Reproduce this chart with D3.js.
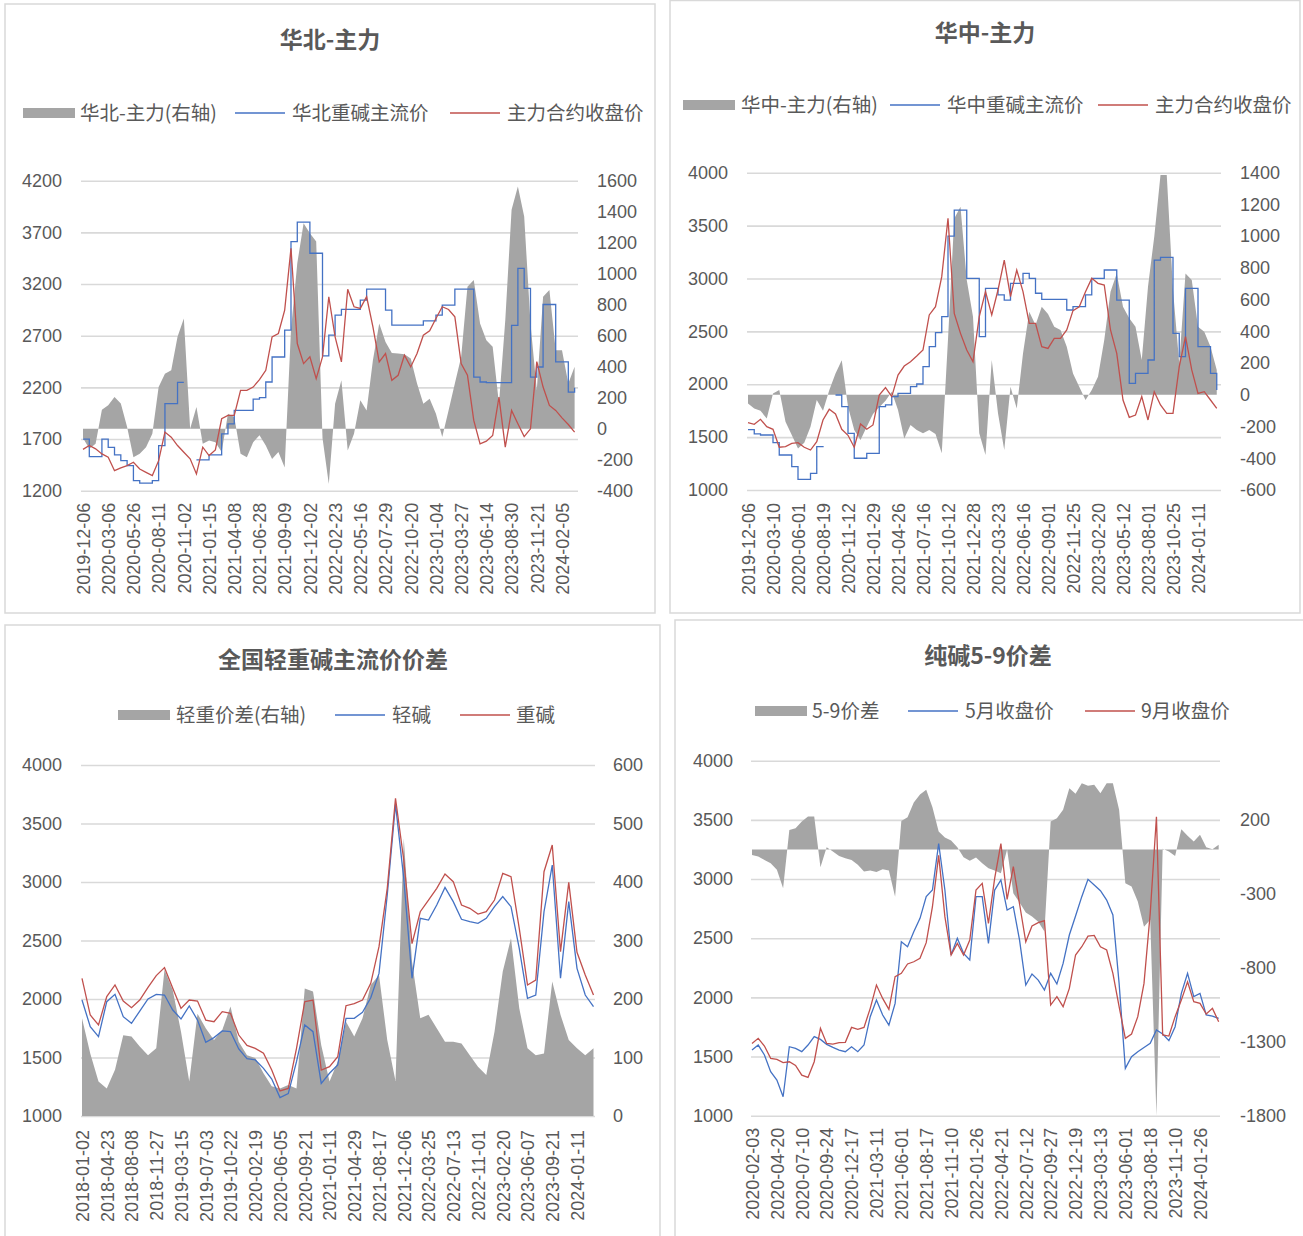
<!DOCTYPE html>
<html><head><meta charset="utf-8">
<script src="https://cdn.jsdelivr.net/npm/d3@7"></script>
<style>body{margin:0;background:#fff}svg{display:block}</style>
</head><body><svg id="c" width="1303" height="1236"></svg>
<script>
// ---------- Panel 1: 华北-主力 ----------
const p1Labels = ["2019-12-06","2020-03-06","2020-05-26","2020-08-11","2020-11-02","2021-01-15","2021-04-08","2021-06-28","2021-09-09","2021-12-02","2022-02-23","2022-05-16","2022-07-29","2022-10-20","2023-01-04","2023-03-27","2023-06-14","2023-08-30","2023-11-21","2024-02-05"];
const p1Gray = [-60,-130,-97,123,151,205,162,11,-184,-162,-119,-33,269,355,377,593,711,0,140,-97,-76,-87,-150,97,75,-162,-184,-87,-43,-108,-195,-151,-250,636,1067,1326,1261,1207,-60,-356,161,312,-140,-33,183,118,442,679,560,489,485,480,453,291,161,194,97,-54,118,291,463,916,960,679,571,528,161,700,1412,1563,1369,679,248,852,895,506,506,291,399];
const p1Blue = [1700,1530,1530,1700,1620,1547,1491,1443,1297,1274,1274,1297,1637,2042,2042,2248,2248,null,1498,1498,1547,1547,1750,1847,1977,1977,1977,2086,2100,2252,2494,2494,2753,3611,3799,3799,3498,3498,2504,2705,2899,2954,2954,2954,3045,3151,3151,3151,2948,2802,2802,2802,2802,2802,2844,2844,2899,2996,2996,3151,3151,3151,2300,2252,2245,2245,2245,2245,2800,3352,3158,2300,2397,3002,3002,2446,2446,2154,2197];
const p1Red = [1600,1637,1605,1556,1524,1394,1420,1443,1475,1410,1378,1346,1491,1767,1718,1637,1572,1508,1362,1621,1540,1595,1896,1928,1928,2171,2171,2203,2275,2365,2689,2721,2948,3546,2624,2430,2495,2284,2495,3077,2689,2446,3150,2980,2964,3077,2786,2446,2527,2268,2317,2511,2398,2527,2705,2747,2867,2980,2954,2883,2430,2317,1880,1653,1679,1734,2106,1621,1977,1847,1724,1799,2450,2203,2025,1977,1905,1841,1767];

// ---------- Panel 2: 华中-主力 ----------
const p2Labels = ["2019-12-06","2020-03-10","2020-06-01","2020-08-19","2020-11-12","2021-01-29","2021-04-26","2021-07-16","2021-10-12","2021-12-28","2022-03-23","2022-06-16","2022-09-01","2022-11-25","2023-02-20","2023-05-12","2023-08-01","2023-10-25","2024-01-11"];
const p2Gray = [-55,-86,-101,-149,9,30,-170,-253,-338,-302,-201,-32,-100,29,134,218,-76,-222,-285,-201,-121,-79,-37,20,-96,-275,-190,-222,-243,-222,-247,-369,350,1112,1186,723,492,-243,-380,219,-117,-348,51,-86,261,524,440,555,509,429,408,303,135,51,-33,30,114,345,650,765,555,482,429,219,681,997,1385,1385,660,198,765,723,429,398,303,156];
const p2Blue = [1570,1530,1520,1520,1448,1331,1331,1221,1101,1101,1158,1410,1404,null,1898,1788,1536,1300,1300,1347,1347,1788,1804,1883,1914,1914,1977,2002,2166,2355,2488,2639,3400,3647,3647,3001,3001,2450,2907,2907,2844,2796,2954,2954,3048,3001,2860,2803,2803,2803,2803,2702,2733,2733,2844,3001,3001,3080,3080,2796,2796,2009,2103,2103,2229,3174,3200,3200,2481,2261,2907,2907,2355,2355,2103,1946];
const p2Red = [1637,1621,1668,1599,1574,1404,1410,1441,1448,1404,1378,1457,1662,1763,1719,1574,1517,1404,1624,1574,1615,1898,1968,1883,2087,2172,2213,2267,2324,2655,2733,3017,3568,2670,2481,2324,2213,2639,2875,2655,2891,3174,2828,3080,2875,2576,2576,2355,2339,2434,2434,2513,2696,2733,2875,3001,2954,2938,2513,2292,1851,1687,1709,1883,1662,1930,1804,1725,1725,2166,2450,2135,1914,1930,1851,1772];

// ---------- Panel 3: 全国轻重碱主流价价差 ----------
const p3Labels = ["2018-01-02","2018-04-23","2018-08-08","2018-11-27","2019-03-15","2019-07-03","2019-10-22","2020-02-19","2020-06-05","2020-09-21","2021-01-11","2021-04-29","2021-08-17","2021-12-06","2022-03-25","2022-07-13","2022-11-01","2023-02-20","2023-06-07","2023-09-21","2024-01-11"];
const p3Gray = [167,107,59,47,79,138,136,119,104,116,250,215,144,59,175,150,130,147,187,127,104,99,73,51,47,53,47,218,213,121,59,93,161,136,167,224,241,130,60,475,264,167,173,150,127,127,124,104,84,70,144,247,304,184,116,104,107,230,173,130,116,104,116];
const p3Light = [1991,1764,1678,1977,2040,1849,1792,1897,2000,2040,2034,1906,1829,1940,1820,1630,1670,1727,1721,1573,1490,1479,1407,1316,1157,1191,1464,1778,1721,1279,1365,1436,1835,1835,1886,2011,2219,2889,3664,3031,2177,2689,2675,2803,2954,2832,2681,2661,2647,2689,2789,2875,2789,2433,2006,2034,2746,3145,2177,2832,2262,2034,1934];
const p3Heavy = [2177,1863,1778,2020,2120,1983,1926,1991,2100,2200,2268,2091,1920,1991,1983,1820,1806,1892,1877,1692,1604,1578,1536,1393,1214,1236,1578,1977,1991,1393,1422,1507,1943,1960,1991,2134,2447,2946,3715,3188,2473,2746,2846,2946,3068,3003,2803,2775,2726,2746,2846,3074,3046,2604,2120,2162,3088,3316,2405,2997,2399,2205,2034];

// ---------- Panel 4: 纯碱5-9价差 ----------
const p4Labels = ["2020-02-03","2020-04-20","2020-07-10","2020-09-24","2020-12-17","2021-03-11","2021-06-01","2021-08-17","2021-11-10","2022-01-26","2022-04-21","2022-07-12","2022-09-27","2022-12-19","2023-03-13","2023-06-01","2023-08-18","2023-11-10","2024-01-26"];
const p4Gray = [-37,-48,-71,-93,-138,-262,132,144,189,223,223,-120,15,-14,-44,-59,-71,-104,-149,-143,-152,-134,-143,-319,193,218,317,371,403,286,121,80,60,15,-53,-77,-55,-93,-127,-143,-161,0,-296,-359,-427,-454,-488,-555,189,211,268,414,376,448,430,437,380,448,448,268,-228,-251,-352,-522,-476,-1800,4,-14,-44,137,92,53,99,15,2,31];
const p4May = [1555,1597,1513,1372,1301,1160,1583,1569,1541,1597,1668,1645,1603,1577,1555,1541,1583,1541,1597,1837,1977,1851,1766,1949,2470,2428,2555,2668,2851,2907,3300,2907,2358,2499,2372,2316,2851,2851,2456,2907,2992,2738,2766,2484,2104,2197,2146,2062,2203,2113,2287,2527,2687,2851,2997,2949,2901,2822,2696,2118,1400,1499,1541,1577,1611,1724,1690,1634,1752,2034,2203,2006,2034,1851,1842,1822];
const p4Sep = [1611,1654,1589,1485,1476,1448,1456,1425,1343,1323,1456,1738,1611,1605,1617,1620,1746,1729,1746,1907,2104,1991,1899,2175,2203,2282,2301,2330,2462,2766,3200,2682,2358,2456,2358,2484,2907,2963,2625,3006,3300,2828,3104,2789,2470,2603,2631,2648,1935,2006,1921,2076,2358,2428,2518,2524,2428,2400,2203,1921,1654,1690,1837,2118,2710,3527,1682,1673,1837,1977,2132,1963,1949,1859,1907,1794];

const C = {gray:'#a5a5a5', blue:'#4472c4', red:'#c0504d', grid:'#d9d9d9', text:'#595959'};
const CJK = '"Noto Sans CJK SC", "Noto Sans", sans-serif';
const NUM = '"Liberation Sans", Arial, sans-serif';
const fmt = d => String(d);   // plain hyphen-minus as in the original
const svg = d3.select('#c');

const panels = [
  {box:[5,4,650,609], title:'华北-主力', tx:330, ty:40, ly:113,
   legend:[{t:'rect',x:23,label:'华北-主力(右轴)',tx:80},{t:'line',c:C.blue,x:235,label:'华北重碱主流价',tx:292},{t:'line',c:C.red,x:450,label:'主力合约收盘价',tx:507}],
   plot:{l:81,r:578,t:180.7,b:490.7}, xf:83, xl:562, labels:p1Labels, step:0.25,
   ld:[1200,4200], lt:[1200,1700,2200,2700,3200,3700,4200], rd:[-400,1600], rt:d3.range(-400,1601,200),
   gray:p1Gray, blue:p1Blue, red:p1Red, stepped:true, padL:19, padR:19, padB:12},
  {box:[670,0.5,630,612.5], title:'华中-主力', tx:985, ty:33, ly:105,
   legend:[{t:'rect',x:683,label:'华中-主力(右轴)',tx:741},{t:'line',c:C.blue,x:890,label:'华中重碱主流价',tx:947},{t:'line',c:C.red,x:1098,label:'主力合约收盘价',tx:1155}],
   plot:{l:747,r:1221,t:172.7,b:490}, xf:748, xl:1198, labels:p2Labels, step:0.25,
   ld:[1000,4000], lt:d3.range(1000,4001,500), rd:[-600,1400], rt:d3.range(-600,1401,200),
   gray:p2Gray, blue:p2Blue, red:p2Red, stepped:true, padL:19, padR:19, padB:13},
  {box:[5,625,655,620], title:'全国轻重碱主流价价差', tx:333, ty:660, ly:715,
   legend:[{t:'rect',x:118,label:'轻重价差(右轴)',tx:176},{t:'line',c:C.blue,x:335,label:'轻碱',tx:392},{t:'line',c:C.red,x:460,label:'重碱',tx:516}],
   plot:{l:81,r:595,t:765,b:1116}, xf:82, xl:577, labels:p3Labels, step:1/3,
   ld:[1000,4000], lt:d3.range(1000,4001,500), rd:[0,600], rt:d3.range(0,601,100),
   gray:p3Gray, blue:p3Light, red:p3Heavy, stepped:false, padL:19, padR:18, padB:14},
  {box:[675,620,630,620], title:'纯碱5-9价差', tx:988, ty:656, ly:711,
   legend:[{t:'rect',x:755,label:'5-9价差',tx:812},{t:'line',c:C.blue,x:908,label:'5月收盘价',tx:965},{t:'line',c:C.red,x:1085,label:'9月收盘价',tx:1141}],
   plot:{l:751,r:1220,t:760.7,b:1115.7}, xf:752, xl:1200, labels:p4Labels, step:0.25,
   ld:[1000,4000], lt:d3.range(1000,4001,500), rd:[-1800,600], rt:[-1800,-1300,-800,-300,200],
   gray:p4Gray, blue:p4May, red:p4Sep, stepped:false, padL:18, padR:20, padB:12}
];

function drawPanel(cfg){
  const g = svg.append('g');
  g.append('rect').attr('x',cfg.box[0]).attr('y',cfg.box[1]).attr('width',cfg.box[2]).attr('height',cfg.box[3])
    .attr('fill','none').attr('stroke','#d9d9d9').attr('stroke-width',1.5);
  g.append('text').attr('x',cfg.tx).attr('y',cfg.ty).attr('dy','0.35em').attr('text-anchor','middle')
    .attr('font-family',CJK).attr('font-weight','bold').attr('font-size',23).attr('fill',C.text).text(cfg.title);
  cfg.legend.forEach(it=>{
    if(it.t==='rect') g.append('rect').attr('x',it.x).attr('y',cfg.ly-5).attr('width',52).attr('height',10).attr('fill',C.gray);
    else g.append('line').attr('x1',it.x).attr('x2',it.x+50).attr('y1',cfg.ly).attr('y2',cfg.ly).attr('stroke',it.c).attr('stroke-width',1.3);
    g.append('text').attr('x',it.tx).attr('y',cfg.ly).attr('dy','0.35em').attr('font-family',CJK).attr('font-size',19.5).attr('fill',C.text).text(it.label);
  });
  const P = cfg.plot;
  const x = d3.scaleLinear().domain([0,cfg.labels.length-1]).range([cfg.xf,cfg.xl]);
  const yL = d3.scaleLinear().domain(cfg.ld).range([P.b,P.t]);
  const yR = d3.scaleLinear().domain(cfg.rd).range([P.b,P.t]);

  const al = g.append('g').attr('transform',`translate(${P.l},0)`)
    .call(d3.axisLeft(yL).tickValues(cfg.lt).tickSize(-(P.r-P.l)).tickPadding(cfg.padL).tickFormat(fmt));
  al.select('.domain').remove();
  al.selectAll('line').attr('stroke',C.grid).attr('stroke-width',1.6);
  al.attr('font-family',NUM).attr('font-size',18);
  al.selectAll('text').attr('fill',C.text);

  const ar = g.append('g').attr('transform',`translate(${P.r},0)`)
    .call(d3.axisRight(yR).tickValues(cfg.rt).tickSize(0).tickPadding(cfg.padR).tickFormat(fmt));
  ar.select('.domain').remove();
  ar.attr('font-family',NUM).attr('font-size',18);
  ar.selectAll('text').attr('fill',C.text);

  const ab = g.append('g').attr('transform',`translate(0,${P.b})`)
    .call(d3.axisBottom(x).tickValues(d3.range(cfg.labels.length)).tickFormat(i=>cfg.labels[i]).tickSize(0));
  ab.select('.domain').remove();
  ab.attr('font-family',NUM).attr('font-size',18);
  ab.selectAll('text').attr('fill',C.text).attr('y',0).attr('x',-cfg.padB).attr('dy','0.35em')
    .attr('transform','rotate(-90)').style('text-anchor','end');

  const xi = (d,i)=> x(i*cfg.step);
  const area = d3.area().x(xi).y0(yR(0)).y1(d=>yR(d)).defined(d=>d!=null);
  g.append('path').datum(cfg.gray).attr('d',area).attr('fill',C.gray);

  const lineB = d3.line().x(xi).y(d=>yL(d)).defined(d=>d!=null).curve(cfg.stepped?d3.curveStepAfter:d3.curveLinear);
  g.append('path').datum(cfg.blue).attr('d',lineB).attr('fill','none').attr('stroke',C.blue).attr('stroke-width',1.3);
  const lineR = d3.line().x(xi).y(d=>yL(d)).defined(d=>d!=null);
  g.append('path').datum(cfg.red).attr('d',lineR).attr('fill','none').attr('stroke',C.red).attr('stroke-width',1.3);
}
panels.forEach(drawPanel);
</script>
</body></html>
